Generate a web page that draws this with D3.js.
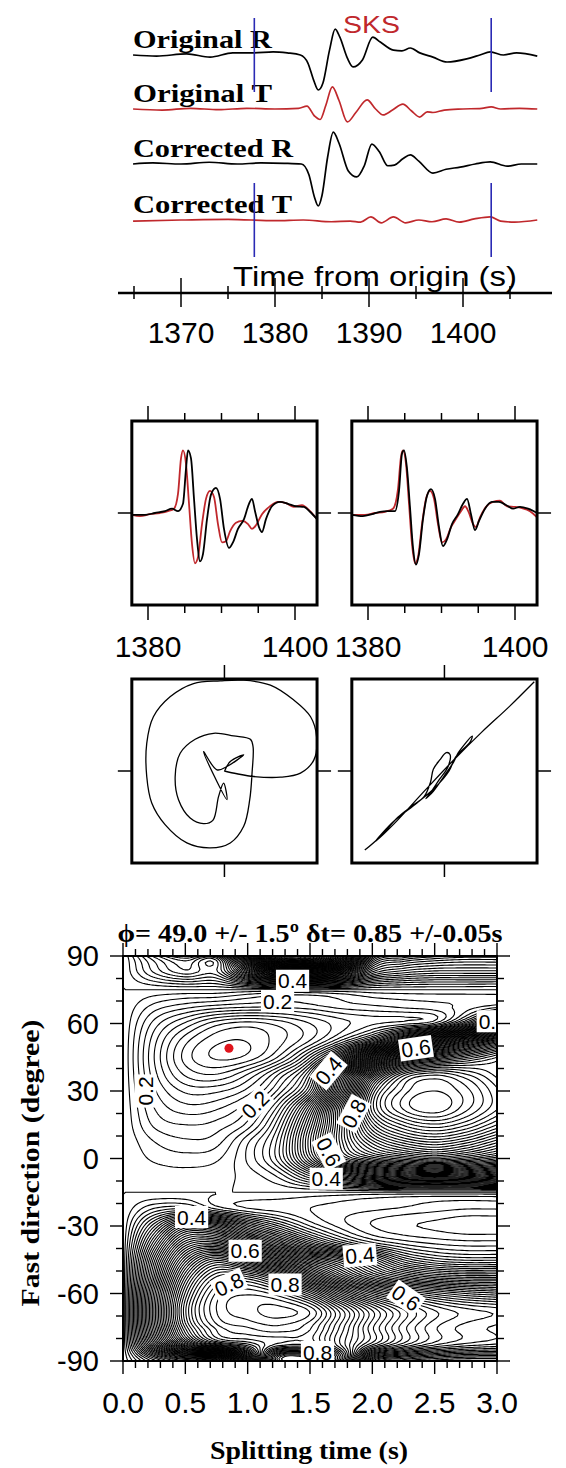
<!DOCTYPE html>
<html>
<head>
<meta charset="utf-8">
<script src="https://cdn.jsdelivr.net/npm/d3@7"></script>
<style>
  body { margin: 0; background: #fff; }
  svg { display: block; }
</style>
</head>
<body>
<svg id="fig" width="566" height="1468"></svg>
<script>
// ===================== data =====================
// Record section: [time from origin (s), normalised amplitude]
const traceNames = ["Original R", "Original T", "Corrected R", "Corrected T"];
const origR = [[1364.9,0],[1367.4,-0.03],[1370.6,0.03],[1373.1,-0.06],[1375.5,0.06],[1377.7,0.06],[1379.8,0.09],[1381.3,0.06],[1382.7,0],[1383.5,-0.23],[1384.1,-0.71],[1384.6,-1.0],[1385.1,-0.8],[1385.8,0.14],[1386.4,0.74],[1386.9,0.51],[1387.7,-0.09],[1388.3,-0.34],[1389.3,-0.14],[1390.4,0.51],[1391.2,0.37],[1392.6,0.14],[1393.5,0.12],[1394.4,0.2],[1395.4,0.06],[1396.8,-0.06],[1398.3,-0.2],[1400.4,-0.11],[1401.8,0],[1402.9,0.09],[1404.3,0],[1405.7,0.06],[1407.9,-0.03]];
const origT = [[1364.9,0],[1368,-0.03],[1371,0.02],[1374,-0.02],[1377,0.02],[1380,0],[1382.5,0.02],[1383.4,0.08],[1384.2,-0.2],[1384.8,-0.3],[1385.4,0.1],[1386.1,0.63],[1386.8,0.25],[1387.7,-0.37],[1388.6,-0.1],[1389.8,0.26],[1390.7,0.0],[1391.5,-0.17],[1392.5,-0.03],[1393.6,0.14],[1394.5,-0.05],[1395.4,-0.23],[1396.2,-0.08],[1396.8,-0.1],[1398,-0.03],[1400,0],[1402,0.02],[1403,0.06],[1404,0],[1406,0.02],[1407.9,0]];
const corrR = [[1364.9,0],[1367,0.03],[1370,0],[1373,0.05],[1376,0],[1378.5,0.03],[1381,0.02],[1382.8,0],[1383.6,-0.3],[1384.2,-0.95],[1384.6,-1.2],[1385.0,-0.9],[1385.6,0.2],[1386.2,0.91],[1386.8,0.6],[1387.8,-0.2],[1388.7,-0.37],[1389.5,-0.05],[1390.3,0.57],[1391.1,0.35],[1392.0,-0.05],[1392.7,-0.03],[1393.6,0.15],[1394.4,0.26],[1395.3,0.08],[1396.8,-0.26],[1398.2,-0.15],[1399.7,-0.09],[1401.3,0],[1402.9,0.06],[1404.7,-0.06],[1406.2,0],[1407.9,0]];
const corrT = [[1364.9,-0.03],[1370,0],[1375,0.02],[1380,-0.02],[1383,0],[1386,-0.05],[1388,-0.03],[1389.1,-0.06],[1390.2,0.09],[1391.3,-0.08],[1392.6,0.09],[1393.9,-0.08],[1395.3,0],[1396.7,-0.05],[1398.2,0.03],[1399.6,-0.06],[1401.2,0.03],[1402.9,0.09],[1404,-0.03],[1405.5,-0.06],[1407.9,0]];
const phaseName = "SKS";
const windowStart = 1377.8, windowEnd = 1403.0;
const timeTicks = [1370, 1380, 1390, 1400];
const timeMinorTicks = [1365, 1375, 1385, 1395, 1405];

// Fast / slow components inside the analysis window: [time (s), amplitude]
const fastWin = [[1377.82,-0.03],[1378.91,-0.05],[1380.27,-0.02],[1381.63,0],[1382.72,0.03],[1383.54,0.07],[1384.08,0.31],[1384.49,0.89],[1384.76,1.02],[1385.17,0.8],[1385.58,0.15],[1385.99,-0.51],[1386.39,-0.82],[1386.8,-0.72],[1387.35,-0.18],[1387.89,0.23],[1388.44,0.36],[1388.98,0.26],[1389.52,-0.18],[1390.07,-0.48],[1390.61,-0.46],[1391.16,-0.3],[1391.97,-0.16],[1392.79,-0.13],[1393.61,-0.18],[1394.15,-0.26],[1394.69,-0.2],[1395.51,-0.02],[1396.6,0.11],[1397.69,0.18],[1398.78,0.16],[1399.86,0.1],[1400.95,0.13],[1402.04,0.03],[1403.0,-0.1]];
const slowWin = [[1377.82,-0.03],[1379.59,-0.03],[1380.95,0],[1382.31,0.03],[1383.27,0.07],[1384.08,0.03],[1384.76,0.15],[1385.17,0.72],[1385.44,1.02],[1385.85,0.89],[1386.26,0.23],[1386.67,-0.43],[1387.07,-0.79],[1387.48,-0.67],[1388.03,-0.1],[1388.57,0.3],[1389.25,0.41],[1389.8,0.23],[1390.34,-0.26],[1391.02,-0.57],[1391.56,-0.48],[1392.24,-0.26],[1393.06,-0.1],[1393.74,0.15],[1394.15,0.23],[1394.56,0.03],[1395.1,-0.23],[1395.51,-0.31],[1396.05,-0.1],[1396.87,0.11],[1397.96,0.18],[1399.05,0.15],[1400.14,0.11],[1401.22,0.1],[1402.04,0.02],[1403.0,-0.1]];
const fastCorr = [[1377.82,-0.03],[1379.59,-0.03],[1380.95,0],[1382.31,0.02],[1383.4,0.07],[1384.08,0.39],[1384.49,0.92],[1384.76,1.02],[1385.17,0.8],[1385.58,0.15],[1385.99,-0.51],[1386.39,-0.82],[1386.8,-0.72],[1387.35,-0.18],[1387.89,0.23],[1388.44,0.36],[1388.98,0.23],[1389.52,-0.18],[1390.07,-0.48],[1390.61,-0.43],[1391.29,-0.23],[1391.97,-0.1],[1392.65,0.03],[1393.2,0.11],[1393.74,0],[1394.29,-0.18],[1394.69,-0.23],[1395.24,-0.07],[1396.05,0.1],[1397.0,0.18],[1397.96,0.2],[1398.91,0.11],[1400.0,0.1],[1400.95,0.08],[1402.04,0.03],[1403.0,-0.07]];
const slowCorr = [[1377.82,-0.03],[1379.3,-0.05],[1380.54,-0.02],[1381.63,0.02],[1382.72,0.03],[1383.67,0.03],[1384.22,0.36],[1384.63,0.97],[1384.9,1.02],[1385.31,0.72],[1385.71,0.1],[1386.12,-0.56],[1386.53,-0.84],[1386.94,-0.67],[1387.48,-0.1],[1388.03,0.28],[1388.57,0.39],[1389.12,0.23],[1389.66,-0.23],[1390.2,-0.54],[1390.75,-0.43],[1391.43,-0.18],[1392.24,-0.02],[1392.93,0.15],[1393.47,0.23],[1394.01,-0.02],[1394.56,-0.28],[1395.1,-0.13],[1395.92,0.07],[1396.87,0.18],[1397.82,0.18],[1398.78,0.13],[1399.73,0.07],[1400.68,0.1],[1401.77,0.07],[1403.0,0]];
const winTicks = [1380, 1385, 1390, 1395, 1400];
const winTickLabels = [1380, 1400];

// Particle motion (normalised horizontal, vertical)
const pmBefore = [[0,0],[0.135,-0.03],[0.316,-0.06],[0.605,-0.067],[0.821,-0.023],[0.966,0.121],[0.995,0.374],[0.93,0.59],[0.749,0.771],[0.496,0.933],[0.208,0.987],[-0.045,0.98],[-0.334,0.951],[-0.587,0.807],[-0.767,0.59],[-0.839,0.301],[-0.839,-0.06],[-0.785,-0.348],[-0.641,-0.583],[-0.406,-0.782],[-0.153,-0.836],[0.063,-0.782],[0.208,-0.601],[0.273,-0.312],[0.298,-0.023],[0.309,0.265],[0.28,0.345],[0.099,0.381],[-0.117,0.41],[-0.316,0.345],[-0.478,0.193],[-0.532,-0.06],[-0.496,-0.312],[-0.37,-0.511],[-0.226,-0.572],[-0.125,-0.536],[-0.063,-0.276],[-0.009,-0.132],[0.027,-0.312],[-0.226,0.211],[-0.081,0.013],[0.027,0.049],[0.208,0.175],[0.063,0.103],[0,-0.005]];
const pmAfter = [[-0.86,-0.86],[-0.7,-0.72],[-0.5,-0.5],[-0.35,-0.38],[-0.22,-0.28],[-0.15,-0.12],[-0.12,0.02],[-0.05,0.12],[0.02,0.2],[0.06,0.18],[0.04,0.05],[-0.06,-0.1],[-0.16,-0.25],[-0.2,-0.3],[-0.12,-0.22],[0,-0.05],[0.1,0.1],[0.15,0.2],[0.3,0.38],[0.28,0.32],[0.12,0.15],[0.05,0],[-0.1,-0.18],[-0.3,-0.35],[-0.55,-0.55],[-0.75,-0.77],[-0.55,-0.58],[-0.2,-0.2],[0.1,0.12],[0.4,0.42],[0.7,0.7],[0.97,0.97]];

// Grid search: normalised transverse energy, one row per fast direction
const delays = [0, 0.25, 0.5, 0.75, 1.0, 1.25, 1.5, 1.75, 2.0, 2.25, 2.5, 2.75, 3.0];
const fastDirs = [90, 82.5, 75, 67.5, 60, 52.5, 45, 37.5, 30, 22.5, 15, 7.5, 0, -7.5, -15, -22.5, -30, -37.5, -45, -52.5, -60, -67.5, -75, -82.5, -90];
const e_p90 = [0.25,0.33,0.38,0.36,0.62,0.98,0.98,0.80,0.50,0.45,0.43,0.42,0.42];
const e_p82 = [0.25,0.30,0.33,0.32,0.44,0.56,0.58,0.50,0.38,0.35,0.34,0.34,0.34];
const e_p75 = [0.25,0.25,0.25,0.25,0.25,0.25,0.25,0.25,0.25,0.25,0.25,0.25,0.25];
const e_p67 = [0.25,0.22,0.205,0.195,0.19,0.19,0.195,0.205,0.21,0.215,0.22,0.23,0.245];
const e_p60 = [0.25,0.195,0.16,0.13,0.12,0.13,0.15,0.17,0.185,0.195,0.215,0.30,0.42];
const e_p52 = [0.25,0.18,0.13,0.104,0.101,0.12,0.15,0.20,0.27,0.38,0.48,0.58,0.66];
const e_p45 = [0.25,0.175,0.12,0.098,0.104,0.14,0.21,0.33,0.52,0.66,0.72,0.76,0.80];
const e_p37 = [0.25,0.18,0.135,0.125,0.15,0.20,0.28,0.50,0.72,0.84,0.87,0.85,0.82];
const e_p30 = [0.25,0.19,0.16,0.16,0.18,0.23,0.32,0.55,0.80,0.88,0.90,0.88,0.84];
const e_p22 = [0.25,0.20,0.18,0.185,0.21,0.27,0.40,0.62,0.82,0.89,0.91,0.88,0.84];
const e_p15 = [0.25,0.21,0.20,0.205,0.23,0.30,0.44,0.62,0.78,0.84,0.86,0.84,0.80];
const e_p07 = [0.25,0.225,0.215,0.22,0.26,0.32,0.46,0.62,0.72,0.77,0.79,0.77,0.73];
const e_00  = [0.25,0.235,0.23,0.235,0.265,0.32,0.44,0.58,0.64,0.67,0.69,0.67,0.64];
const e_m07 = [0.25,0.245,0.243,0.246,0.255,0.28,0.34,0.40,0.45,0.48,0.49,0.48,0.46];
const e_m15 = [0.25,0.25,0.25,0.25,0.25,0.25,0.25,0.25,0.25,0.25,0.25,0.25,0.25];
const e_m22 = [0.25,0.29,0.30,0.262,0.24,0.232,0.225,0.22,0.215,0.21,0.205,0.20,0.20];
const e_m30 = [0.25,0.36,0.46,0.44,0.36,0.30,0.25,0.22,0.20,0.19,0.185,0.18,0.18];
const e_m37 = [0.25,0.42,0.56,0.58,0.50,0.42,0.34,0.28,0.24,0.22,0.21,0.205,0.205];
const e_m45 = [0.25,0.47,0.64,0.72,0.66,0.58,0.50,0.44,0.37,0.30,0.27,0.26,0.26];
const e_m52 = [0.25,0.50,0.70,0.80,0.80,0.74,0.64,0.54,0.46,0.41,0.38,0.37,0.37];
const e_m60 = [0.25,0.53,0.74,0.84,0.86,0.84,0.78,0.68,0.60,0.55,0.52,0.50,0.49];
const e_m67 = [0.25,0.54,0.76,0.85,0.87,0.88,0.86,0.78,0.70,0.64,0.60,0.58,0.57];
const e_m75 = [0.25,0.53,0.74,0.83,0.85,0.86,0.84,0.77,0.69,0.63,0.59,0.57,0.56];
const e_m82 = [0.25,0.48,0.66,0.76,0.80,0.84,0.84,0.76,0.68,0.62,0.58,0.56,0.55];
const e_m90 = [0.25,0.33,0.38,0.36,0.62,0.98,0.98,0.80,0.50,0.45,0.43,0.42,0.42];
const contourStep = 0.0125;

// Contour labels: delay (s), fast direction (deg), text, rotation (deg)
const labelDelay = [1.36, 1.24, 2.97, 2.35, 1.65, 0.18, 1.06, 1.85, 1.65, 1.63, 0.55, 0.98, 0.85, 1.30, 1.90, 2.27, 1.56];
const labelDir   = [79, 70, 61, 49, 39, 30, 24, 20, 3, -9, -26, -41, -56, -56, -43, -62, -86];
const labelText  = ["0.4","0.2","0.4","0.6","0.4","0.2","0.2","0.8","0.6","0.4","0.4","0.6","0.8","0.8","0.4","0.6","0.8"];
const labelAngle = [0, 0, 0, -8, -50, -90, -45, -62, 62, 0, 0, 0, -25, 0, -5, 35, 0];

// Best-fitting splitting parameters
const bestPhi = 49.0, phiErr = 1.5, bestDt = 0.85, dtErr = 0.05;
const delayTicks = [0, 0.5, 1.0, 1.5, 2.0, 2.5, 3.0];
const dirTicks = [90, 60, 30, 0, -30, -60, -90];

// ===================== drawing =====================
const SANS = "'Liberation Sans', Arial, Helvetica, sans-serif";
const SERIF = "'Liberation Serif', 'Times New Roman', serif";
const INK = "#000";
const RED = "#c0282c";
const BLUE = "#2a2ab4";

const svg = d3.select("#fig");
svg.append("rect").attr("width", 566).attr("height", 1468).attr("fill", "#fff");

// ---------- record section ----------
const xTime = d3.scaleLinear().domain([1370, 1400]).range([181, 463]);
const rows = [
  { data: origR, base: 55, color: INK, labelY: 48, labelW: 139 },
  { data: origT, base: 109, color: RED, labelY: 102, labelW: 139 },
  { data: corrR, base: 164, color: INK, labelY: 157, labelW: 160 },
  { data: corrT, base: 220, color: RED, labelY: 213, labelW: 159 }
];
rows.forEach((r, i) => {
  svg.append("text")
    .attr("x", 133).attr("y", r.labelY)
    .attr("font-family", SERIF).attr("font-weight", "bold").attr("font-size", 26)
    .attr("textLength", r.labelW).attr("lengthAdjust", "spacingAndGlyphs")
    .attr("fill", INK).text(traceNames[i]);
});
rows.forEach(r => {
  const y = d3.scaleLinear().domain([-1, 1]).range([r.base + 35, r.base - 35]);
  svg.append("path").datum(r.data)
    .attr("d", d3.line().x(d => xTime(d[0])).y(d => y(d[1])).curve(d3.curveMonotoneX))
    .attr("fill", "none").attr("stroke", r.color).attr("stroke-width", 1.7);
});
svg.append("text").attr("x", 343).attr("y", 33)
  .attr("font-family", SANS).attr("font-size", 24).attr("fill", RED)
  .attr("textLength", 57).attr("lengthAdjust", "spacingAndGlyphs").text(phaseName);

[windowStart, windowEnd].forEach(t => {
  [[18, 92], [183, 257]].forEach(([a, b]) => {
    svg.append("line").attr("x1", xTime(t)).attr("x2", xTime(t)).attr("y1", a).attr("y2", b)
      .attr("stroke", BLUE).attr("stroke-width", 1.6);
  });
});

// time axis
const axisY = 293;
svg.append("line").attr("x1", 118).attr("x2", 552).attr("y1", axisY).attr("y2", axisY)
  .attr("stroke", INK).attr("stroke-width", 2.5);
timeTicks.forEach(t => {
  svg.append("line").attr("x1", xTime(t)).attr("x2", xTime(t)).attr("y1", axisY - 15).attr("y2", axisY + 14)
    .attr("stroke", INK).attr("stroke-width", 1.5);
  svg.append("text").attr("x", xTime(t)).attr("y", 343).attr("text-anchor", "middle")
    .attr("font-family", SANS).attr("font-size", 30).attr("fill", INK).text(t);
});
timeMinorTicks.forEach(t => {
  svg.append("line").attr("x1", xTime(t)).attr("x2", xTime(t)).attr("y1", axisY - 7).attr("y2", axisY + 6)
    .attr("stroke", INK).attr("stroke-width", 1.5);
});
svg.append("text").attr("x", 233).attr("y", 286)
  .attr("font-family", SANS).attr("font-size", 28).attr("fill", INK)
  .attr("textLength", 284).attr("lengthAdjust", "spacingAndGlyphs").text("Time from origin (s)");

// ---------- windowed waveforms ----------
const yWin = d3.scaleLinear().domain([-1.5, 1.5]).range([605, 421]);
function waveBox(x, fast, slow) {
  const x0 = x(windowStart), x1 = x(windowEnd), y0 = yWin(1.5), y1 = yWin(-1.5);
  const line = d3.line().x(d => x(d[0])).y(d => yWin(d[1])).curve(d3.curveMonotoneX);
  svg.append("path").datum(fast).attr("d", line).attr("fill", "none").attr("stroke", RED).attr("stroke-width", 1.8);
  svg.append("path").datum(slow).attr("d", line).attr("fill", "none").attr("stroke", INK).attr("stroke-width", 1.8);
  svg.append("rect").attr("x", x0).attr("y", y0).attr("width", x1 - x0).attr("height", y1 - y0)
    .attr("fill", "none").attr("stroke", INK).attr("stroke-width", 3);
  winTicks.forEach(t => {
    const len = winTickLabels.includes(t) ? 15 : 8;
    svg.append("line").attr("x1", x(t)).attr("x2", x(t)).attr("y1", y0 - len).attr("y2", y0).attr("stroke", INK).attr("stroke-width", 1.5);
    svg.append("line").attr("x1", x(t)).attr("x2", x(t)).attr("y1", y1).attr("y2", y1 + len).attr("stroke", INK).attr("stroke-width", 1.5);
  });
  svg.append("line").attr("x1", x0 - 14).attr("x2", x0).attr("y1", yWin(0)).attr("y2", yWin(0)).attr("stroke", INK).attr("stroke-width", 1.5);
  svg.append("line").attr("x1", x1).attr("x2", x1 + 14).attr("y1", yWin(0)).attr("y2", yWin(0)).attr("stroke", INK).attr("stroke-width", 1.5);
  winTickLabels.forEach(t => {
    svg.append("text").attr("x", x(t)).attr("y", 657).attr("text-anchor", "middle")
      .attr("font-family", SANS).attr("font-size", 30).attr("fill", INK).text(t);
  });
}
const xWinL = d3.scaleLinear().domain([1380, 1400]).range([148, 295]);
const xWinR = d3.scaleLinear().domain([1380, 1400]).range([368, 515]);
waveBox(xWinL, fastWin, slowWin);
waveBox(xWinR, fastCorr, slowCorr);

// ---------- particle motion ----------
const yPM = d3.scaleLinear().domain([-1, 1]).range([863, 679]);
function pmBox(x, path) {
  svg.append("path").datum(path)
    .attr("d", d3.line().x(d => x(d[0])).y(d => yPM(d[1])).curve(d3.curveCatmullRom))
    .attr("fill", "none").attr("stroke", INK).attr("stroke-width", 1.3);
  const x0 = x(-1), x1 = x(1), y0 = yPM(1), y1 = yPM(-1);
  svg.append("rect").attr("x", x0).attr("y", y0).attr("width", x1 - x0).attr("height", y1 - y0)
    .attr("fill", "none").attr("stroke", INK).attr("stroke-width", 3);
  const cx = x(0), cy = yPM(0);
  [[cx, y0 - 14, cx, y0], [cx, y1, cx, y1 + 14], [x0 - 14, cy, x0, cy], [x1, cy, x1 + 14, cy]].forEach(s => {
    svg.append("line").attr("x1", s[0]).attr("y1", s[1]).attr("x2", s[2]).attr("y2", s[3]).attr("stroke", INK).attr("stroke-width", 1.5);
  });
}
pmBox(d3.scaleLinear().domain([-1, 1]).range([xWinL(windowStart), xWinL(windowEnd)]), pmBefore);
pmBox(d3.scaleLinear().domain([-1, 1]).range([xWinR(windowStart), xWinR(windowEnd)]), pmAfter);

// ---------- grid-search energy map ----------
const xs = d3.scaleLinear().domain([0, 3]).range([123, 497]);
const ys = d3.scaleLinear().domain([-90, 90]).range([1361, 956]);
const grid = [e_p90, e_p82, e_p75, e_p67, e_p60, e_p52, e_p45, e_p37, e_p30, e_p22, e_p15, e_p07, e_00,
              e_m07, e_m15, e_m22, e_m30, e_m37, e_m45, e_m52, e_m60, e_m67, e_m75, e_m82, e_m90];
const dStep = delays[1] - delays[0];
const pStep = fastDirs[0] - fastDirs[1];
const period = grid.length - 1;            // fast direction wraps every 180 degrees

function cr(p0, p1, p2, p3, u) {
  return 0.5 * (2 * p1 + (-p0 + p2) * u + (2 * p0 - 5 * p1 + 4 * p2 - p3) * u * u + (-p0 + 3 * p1 - 3 * p2 + p3) * u * u * u);
}
function gridRow(r) { return grid[((r % period) + period) % period]; }
function cell(row, c) {
  const n = row.length;
  if (c < 0) return 2 * row[0] - row[1];
  if (c > n - 1) return 2 * row[n - 1] - row[n - 2];
  return row[c];
}
function energyAt(dt, phi) {
  const fc = dt / dStep, c = Math.min(Math.floor(fc), delays.length - 2), u = fc - c;
  const fr = (fastDirs[0] - phi) / pStep, r = Math.min(Math.floor(fr), period - 1), v = fr - r;
  const along = k => { const row = gridRow(r + k); return cr(cell(row, c - 1), cell(row, c), cell(row, c + 1), cell(row, c + 2), u); };
  return cr(along(-1), along(0), along(1), along(2), v);
}

const nx = 151, ny = 181;
const field = new Float64Array(nx * ny);
for (let j = 0; j < ny; j++) {
  const phi = 90 - j * 180 / (ny - 1);
  for (let i = 0; i < nx; i++) field[j * nx + i] = energyAt(i * 3 / (nx - 1), phi);
}
const levels = d3.range(1, 81).map(k => k * contourStep + 1e-6);
const polys = d3.contours().size([nx, ny]).thresholds(levels)(Array.from(field));
const toPlot = d3.geoTransform({
  point: function (x, y) {
    this.stream.point(xs((x - 0.5) * 3 / (nx - 1)), ys(90 - (y - 0.5) * 180 / (ny - 1)));
  }
});
const geo = d3.geoPath(toPlot);

svg.append("defs").append("clipPath").attr("id", "mapClip")
  .append("rect").attr("x", xs(0)).attr("y", ys(90)).attr("width", xs(3) - xs(0)).attr("height", ys(-90) - ys(90));
const map = svg.append("g").attr("clip-path", "url(#mapClip)");
map.append("g").selectAll("path").data(polys).join("path")
  .attr("d", geo).attr("fill", "none").attr("stroke", INK).attr("stroke-width", 1.1);

// labels with a white backing box
labelText.forEach((txt, i) => {
  const g = map.append("g").attr("transform", `translate(${xs(labelDelay[i])},${ys(labelDir[i])}) rotate(${labelAngle[i]})`);
  const bg = g.append("rect").attr("fill", "#fff");
  const t = g.append("text").attr("text-anchor", "middle").attr("dy", "0.36em")
    .attr("font-family", SANS).attr("font-size", 21).attr("fill", INK).text(txt);
  const w = t.node().getComputedTextLength();
  bg.attr("x", -w / 2 - 2).attr("y", -11).attr("width", w + 4).attr("height", 22);
});
map.append("circle").attr("cx", xs(bestDt)).attr("cy", ys(bestPhi)).attr("r", 4.5).attr("fill", "#e0141c");

// frame and ticks
svg.append("rect").attr("x", xs(0)).attr("y", ys(90)).attr("width", xs(3) - xs(0)).attr("height", ys(-90) - ys(90))
  .attr("fill", "none").attr("stroke", INK).attr("stroke-width", 2);
d3.range(0, 31).forEach(k => {
  const d = k / 10, major = k % 5 === 0, len = major ? 13 : 7;
  svg.append("line").attr("x1", xs(d)).attr("x2", xs(d)).attr("y1", ys(90) - len).attr("y2", ys(90)).attr("stroke", INK).attr("stroke-width", 1.4);
  svg.append("line").attr("x1", xs(d)).attr("x2", xs(d)).attr("y1", ys(-90)).attr("y2", ys(-90) + len).attr("stroke", INK).attr("stroke-width", 1.4);
});
d3.range(-90, 91, 10).forEach(p => {
  const major = p % 30 === 0, len = major ? 13 : 7;
  svg.append("line").attr("x1", xs(0) - len).attr("x2", xs(0)).attr("y1", ys(p)).attr("y2", ys(p)).attr("stroke", INK).attr("stroke-width", 1.4);
  svg.append("line").attr("x1", xs(3)).attr("x2", xs(3) + len).attr("y1", ys(p)).attr("y2", ys(p)).attr("stroke", INK).attr("stroke-width", 1.4);
});
delayTicks.forEach(d => {
  svg.append("text").attr("x", xs(d)).attr("y", 1413).attr("text-anchor", "middle")
    .attr("font-family", SANS).attr("font-size", 30).attr("fill", INK).text(d.toFixed(1));
});
dirTicks.forEach(p => {
  svg.append("text").attr("x", 99).attr("y", ys(p)).attr("dy", "0.36em").attr("text-anchor", "end")
    .attr("font-family", SANS).attr("font-size", 29).attr("fill", INK).text(p);
});
svg.append("text").attr("x", 310).attr("y", 942).attr("text-anchor", "middle")
  .attr("font-family", SERIF).attr("font-weight", "bold").attr("font-size", 26).attr("fill", INK)
  .attr("textLength", 385).attr("lengthAdjust", "spacingAndGlyphs")
  .text(`\u03D5= ${bestPhi.toFixed(1)} +/- ${phiErr.toFixed(1)}\u00BA \u03B4t= ${bestDt.toFixed(2)} +/-${dtErr.toFixed(2)}s`);
svg.append("text").attr("transform", "translate(39,1163) rotate(-90)").attr("text-anchor", "middle")
  .attr("font-family", SERIF).attr("font-weight", "bold").attr("font-size", 26).attr("fill", INK)
  .attr("textLength", 287).attr("lengthAdjust", "spacingAndGlyphs").text("Fast direction (degree)");
svg.append("text").attr("x", 309).attr("y", 1459).attr("text-anchor", "middle")
  .attr("font-family", SERIF).attr("font-weight", "bold").attr("font-size", 26).attr("fill", INK)
  .attr("textLength", 198).attr("lengthAdjust", "spacingAndGlyphs").text("Splitting time (s)");
</script>
</body>
</html>
